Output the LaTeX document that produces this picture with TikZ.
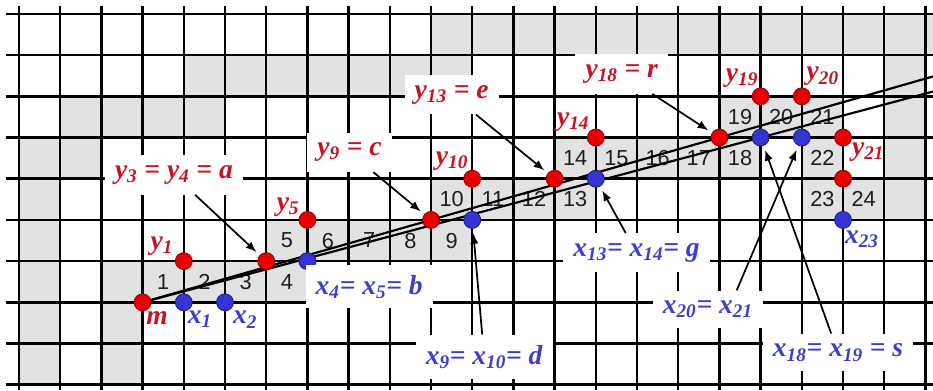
\documentclass[tikz,border=0pt]{standalone}
\usepackage{fontspec}
\newfontfamily\labserif{Liberation Serif}
\newfontfamily\numsans{Liberation Sans}
\usetikzlibrary{arrows.meta}
\definecolor{cellgray}{RGB}{226,226,226}
\definecolor{labred}{RGB}{200,18,36}
\definecolor{labblue}{RGB}{62,62,204}
\definecolor{dotred}{RGB}{232,0,0}
\definecolor{dotredline}{RGB}{150,0,0}
\definecolor{dotblue}{RGB}{52,52,214}
\definecolor{dotblueline}{RGB}{30,30,120}
\definecolor{numgray}{RGB}{30,30,30}
\newcommand{\vsub}[2]{#1\textsubscript{#2}}
\tikzset{
  gridline/.style={line width=1.7pt, draw=black},
  num/.style={font=\numsans\fontsize{15}{15}\selectfont, text=numgray, inner sep=0pt},
  reddot/.style={circle, draw=dotredline, fill=dotred, line width=0.6pt,
    minimum size=4.1mm, inner sep=0pt},
  bluedot/.style={circle, draw=dotblueline, fill=dotblue, line width=0.6pt,
    minimum size=4.1mm, inner sep=0pt},
  lab/.style={font=\labserif\bfseries\itshape\fontsize{19}{19}\selectfont,
    text=#1, inner sep=1pt},
  tag/.style={lab=#1, fill=white, inner xsep=7pt, inner ysep=7pt},
  slope/.style={line width=1.5pt, line cap=round},
  arrow/.style={-{Latex[length=2.6mm, width=2mm]}, line width=1.2pt, shorten >=3pt}
}

\begin{document}
\begin{tikzpicture}
  \useasboundingbox (-0.461,-0.13) rectangle (22.184,9.338);
  % shaded pixels
  \fill[cellgray] (0,0) rectangle (1,6) (1,5) rectangle (2,7) (2,6) rectangle (5,7)
    (4,7) rectangle (11,8) (10,8) rectangle (22.2,9) (2,0) rectangle (3,3)
    (21,4) rectangle (22,8);
  \fill[cellgray] (3,2) rectangle (7,3) (6,3) rectangle (11,4) (10,4) rectangle (14,5)
    (13,5) rectangle (18,6) (17,6) rectangle (20,7) (19,4) rectangle (21,5)
    (19,5) rectangle (20,6);
  \draw[gridline] (-0.316,-0.13) grid (22.2,9.19);
  % cell numbers
  \foreach \c/\r/\n in {3/2/1, 4/2/2, 5/2/3, 6/2/4, 6/3/5, 7/3/6, 8/3/7, 9/3/8,
      10/3/9, 10/4/10, 11/4/11, 12/4/12, 13/4/13, 13/5/14, 14/5/15, 15/5/16,
      16/5/17, 17/5/18, 17/6/19, 18/6/20, 19/6/21, 19/5/22, 19/4/23, 20/4/24}
    \node[num] (n\n) at (\c+0.5,\r+0.5) {\n};
  % the two bounding lines
  \coordinate (start) at (3,2);
  \coordinate (hiend) at (22.2,7.486);
  \coordinate (loend) at (22.2,7.12);
  \draw[slope] (start) -- (hiend);
  \draw[slope] (start) -- (loend);
  % points
  \node[reddot] (m) at (start) {};
  \node[reddot] (y1) at (4,3) {};
  \node[reddot] (ya) at (6,3) {};
  \node[reddot] (y5) at (7,4) {};
  \node[reddot] (yc) at (10,4) {};
  \node[reddot] (y10) at (11,5) {};
  \node[reddot] (ye) at (13,5) {};
  \node[reddot] (y14) at (14,6) {};
  \node[reddot] (yr) at (17,6) {};
  \node[reddot] (y19) at (18,7) {};
  \node[reddot] (y20) at (19,7) {};
  \node[reddot] (y21) at (20,6) {};
  \node[reddot] (y22) at (20,5) {};
  \node[bluedot] (x1) at (4,2) {};
  \node[bluedot] (x2) at (5,2) {};
  \node[bluedot] (xb) at (7,3) {};
  \node[bluedot] (xd) at (11,4) {};
  \node[bluedot] (xg) at (14,5) {};
  \node[bluedot] (xs) at (18,6) {};
  \node[bluedot] (x20) at (19,6) {};
  \node[bluedot] (x23) at (20,4) {};
  % point labels
  \node[lab=labred] (lm) at (3.35,1.61) {m};
  \node[lab=labred] (ly1) at (3.47,3.37) {\vsub{y}{1}};
  \node[lab=labred] (ly5) at (6.53,4.31) {\vsub{y}{5}};
  \node[lab=labred] (ly10) at (10.51,5.42) {\vsub{y}{10}};
  \node[lab=labred] (ly14) at (13.45,6.37) {\vsub{y}{14}};
  \node[lab=labred] (ly19) at (17.55,7.45) {\vsub{y}{19}};
  \node[lab=labred] (ly20) at (19.51,7.48) {\vsub{y}{20}};
  \node[lab=labred] (ly21) at (20.61,5.64) {\vsub{y}{21}};
  \node[lab=labblue] (lx1) at (4.39,1.58) {\vsub{x}{1}};
  \node[lab=labblue] (lx2) at (5.49,1.58) {\vsub{x}{2}};
  \node[lab=labblue] (lx23) at (20.46,3.54) {\vsub{x}{23}};
  % boxed labels
  \node[tag=labred] (la) at (3.76,5.09) {\vsub{y}{3} = \vsub{y}{4} = a};
  \node[tag=labred] (lc) at (8.02,5.64) {\vsub{y}{9} = c};
  \node[tag=labred] (le) at (10.50,7.04) {\vsub{y}{13} = e};
  \node[tag=labred] (lr) at (14.63,7.54) {\vsub{y}{18} = r};
  \node[tag=labblue] (lb) at (8.50,2.38) {\vsub{x}{4}= \vsub{x}{5}= b};
  \node[tag=labblue] (ld) at (11.29,0.68) {\vsub{x}{9}= \vsub{x}{10}= d};
  \node[tag=labblue] (lg) at (14.99,3.20) {\vsub{x}{13}= \vsub{x}{14}= g};
  \node[tag=labblue] (l2021) at (16.72,1.83) {\vsub{x}{20}= \vsub{x}{21}};
  \node[tag=labblue] (ls) at (19.88,0.78) {\vsub{x}{18}= \vsub{x}{19} = s};
  \draw[arrow] (la) -- (ya);
  \draw[arrow] (lc) -- (yc);
  \draw[arrow] (le) -- (ye);
  \draw[arrow] (lr) -- (yr);
  \draw[arrow] (ld) -- (xd);
  \draw[arrow] (lg) -- (xg);
  \draw[arrow] ([xshift=7mm]l2021.north) -- (x20);
  \draw[arrow] (ls) -- (xs);
\end{tikzpicture}
\end{document}
